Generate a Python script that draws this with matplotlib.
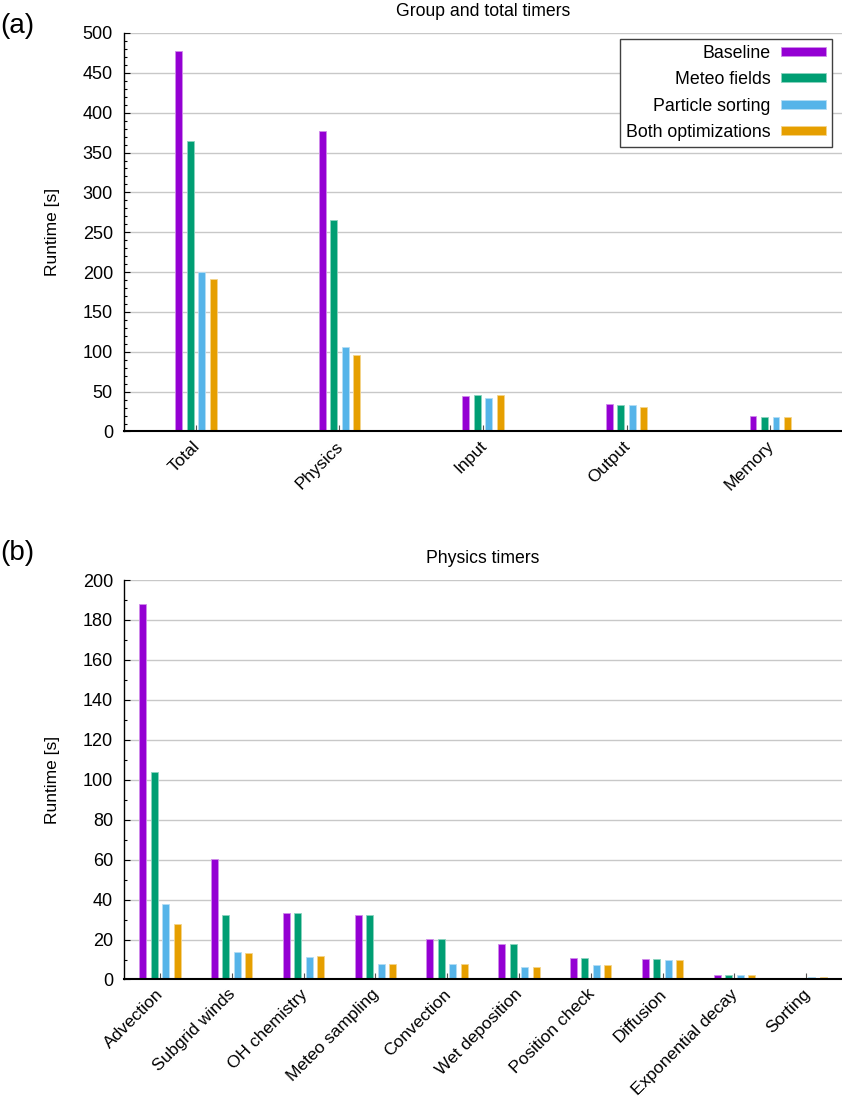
import numpy as np
import matplotlib
matplotlib.use('Agg')
import matplotlib.pyplot as plt
import matplotlib.transforms as mtransforms
from matplotlib.patches import Patch
from matplotlib.ticker import MultipleLocator

plt.rcParams['font.family'] = ['Liberation Sans', 'DejaVu Sans']
plt.rcParams['font.size'] = 13

series = ['Baseline', 'Meteo fields', 'Particle sorting', 'Both optimizations']
colors = ['#9400d3', '#009e73', '#56b4e9', '#e69f00']

group_cats = ['Total', 'Physics', 'Input', 'Output', 'Memory']
group_baseline = [477, 377, 44.8, 33.9, 20.0]
group_meteo = [364, 265, 46.0, 33.0, 18.8]
group_sorting = [200, 106.5, 41.5, 32.7, 17.6]
group_both = [191, 95.5, 45.2, 30.2, 18.0]

phys_cats = ['Advection', 'Subgrid winds', 'OH chemistry', 'Meteo sampling', 'Convection',
             'Wet deposition', 'Position check', 'Diffusion', 'Exponential decay', 'Sorting']
phys_baseline = [188, 60.3, 33.4, 32.2, 20.4, 17.7, 10.6, 10.2, 2.2, 0]
phys_meteo = [104, 32.2, 33.4, 32.2, 20.4, 17.7, 10.6, 10.2, 2.2, 0]
phys_sorting = [37.8, 13.9, 11.4, 7.9, 7.9, 6.2, 7.2, 9.7, 2.2, 1.4]
phys_both = [27.7, 13.2, 11.6, 7.9, 7.9, 6.2, 7.2, 9.6, 2.2, 1.2]


def lighten(c, f=0.55):
    rgb = np.array(matplotlib.colors.to_rgb(c))
    return tuple(rgb + (1 - rgb) * f)


def draw_panel(ax, cats, data, step, width, ymax, major, minor, title):
    x = np.arange(len(cats))
    for i, (vals, c) in enumerate(zip(data, colors)):
        ax.bar(x + (i - 1.5) * step, vals, width, color=c, edgecolor=lighten(c),
               linewidth=0.6, zorder=3)
    ax.set_xlim(-0.5, len(cats) - 0.5)
    ax.set_ylim(0, ymax)
    ax.yaxis.set_major_locator(MultipleLocator(major))
    ax.yaxis.set_minor_locator(MultipleLocator(minor))
    ax.grid(axis='y', which='major', color='#c8c8c8', linewidth=1.0, zorder=0)
    ax.set_axisbelow(True)
    for s in ['top', 'right']:
        ax.spines[s].set_visible(False)
    ax.spines['left'].set_linewidth(1.0)
    ax.spines['bottom'].set_linewidth(1.5)
    ax.spines['bottom'].set_zorder(4)
    ax.tick_params(axis='y', which='major', direction='in', length=4.3, width=0.8,
                   pad=8, labelsize=13)
    ax.tick_params(axis='y', which='minor', direction='in', length=2.5, width=0.8)
    ax.set_xticks(x)
    ax.set_xticklabels(cats, rotation=45, ha='right', va='top', rotation_mode='anchor')
    ax.tick_params(axis='x', direction='in', length=4.3, width=0.8, color='#555555',
                   pad=5, labelsize=12.5)
    off = mtransforms.ScaledTranslation(-4 / 100, 0, ax.figure.dpi_scale_trans)
    for lab in ax.get_xticklabels():
        lab.set_transform(lab.get_transform() + off)
    ax.set_title(title, fontsize=12.7, pad=12)
    ax.set_ylabel('Runtime [s]', fontsize=12.5)
    ax.yaxis.set_label_coords(-0.089, 0.5)


fig = plt.figure(figsize=(8.42, 10.96), dpi=100)
ax1 = fig.add_axes([0.1473, 0.6063, 0.8527, 0.3636])
ax2 = fig.add_axes([0.1473, 0.1063, 0.8527, 0.3645])

draw_panel(ax1, group_cats, [group_baseline, group_meteo, group_sorting, group_both],
           0.08, 0.048, 500, 50, 10, 'Group and total timers')
draw_panel(ax2, phys_cats, [phys_baseline, phys_meteo, phys_sorting, phys_both],
           0.16, 0.097, 200, 20, 10, 'Physics timers')

handles = [Patch(facecolor=c, edgecolor=lighten(c), linewidth=0.6) for c in colors]
leg = ax1.legend(handles, series, loc='upper right', bbox_to_anchor=(0.986, 0.985),
                 markerfirst=False, fancybox=False, framealpha=1, edgecolor='#404040',
                 handlelength=2.55, handleheight=0.39, handletextpad=0.6,
                 labelspacing=0.53, borderpad=0.32, borderaxespad=0, fontsize=12.8)
leg.get_frame().set_linewidth(1.0)

fig.text(0.0, 0.988, '(a)', fontsize=20, va='top', ha='left')
fig.text(0.0, 0.507, '(b)', fontsize=20, va='top', ha='left')

fig.savefig('out.png', dpi=100)
